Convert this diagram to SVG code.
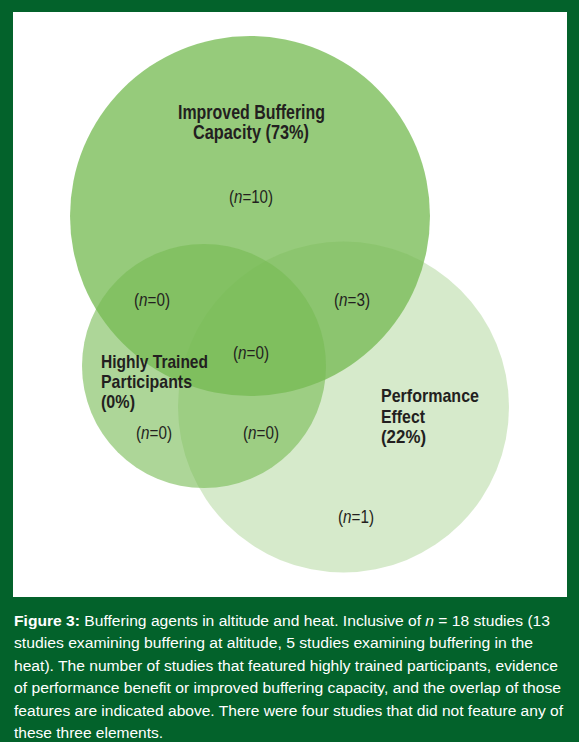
<svg xmlns="http://www.w3.org/2000/svg" width="579" height="742" viewBox="0 0 579 742">
<style>
.circ{fill:#76bb53}
.title{font-family:"Liberation Sans Narrow","Liberation Sans",Arial,sans-serif;font-weight:bold;fill:#231f20}
.count{font-family:"Liberation Sans Narrow","Liberation Sans",Arial,sans-serif;font-size:17.5px;fill:#231f20}
.cap{font-family:"Liberation Sans Narrow","Liberation Sans",Arial,sans-serif;font-size:15.5px;fill:#ffffff}
.it{font-style:italic}
.b{font-weight:bold}
</style>
<rect x="0" y="0" width="579" height="742" fill="#03622b"/>
<rect x="13" y="12" width="554" height="585" fill="#ffffff"/>

<g id="node-improved-buffering">
  <circle class="circ" cx="250" cy="216" r="180" fill-opacity="0.77"/>
  <text class="title" font-size="20" x="178" y="119" textLength="147" lengthAdjust="spacingAndGlyphs">Improved Buffering</text>
  <text class="title" font-size="20" x="193" y="139" textLength="116" lengthAdjust="spacingAndGlyphs">Capacity (73%)</text>
</g>

<g id="node-performance-effect">
  <circle class="circ" cx="343.5" cy="407" r="165.5" fill-opacity="0.3"/>
  <text class="title" font-size="19" x="381" y="402" textLength="98" lengthAdjust="spacingAndGlyphs">Performance</text>
  <text class="title" font-size="19" x="381" y="423" textLength="44" lengthAdjust="spacingAndGlyphs">Effect</text>
  <text class="title" font-size="19" x="381" y="443" textLength="45" lengthAdjust="spacingAndGlyphs">(22%)</text>
</g>

<g id="node-highly-trained">
  <circle class="circ" cx="204" cy="366" r="122" fill-opacity="0.6"/>
  <text class="title" font-size="19" x="101" y="368" textLength="107" lengthAdjust="spacingAndGlyphs">Highly Trained</text>
  <text class="title" font-size="19" x="101" y="388" textLength="91" lengthAdjust="spacingAndGlyphs">Participants</text>
  <text class="title" font-size="19" x="101" y="408" textLength="34" lengthAdjust="spacingAndGlyphs">(0%)</text>
</g>

<g id="region-counts">
  <text class="count" x="229" y="202.5" textLength="44" lengthAdjust="spacingAndGlyphs">(<tspan class="it">n</tspan>=10)</text>
  <text class="count" x="134" y="306" textLength="36" lengthAdjust="spacingAndGlyphs">(<tspan class="it">n</tspan>=0)</text>
  <text class="count" x="334" y="306" textLength="36" lengthAdjust="spacingAndGlyphs">(<tspan class="it">n</tspan>=3)</text>
  <text class="count" x="233" y="359" textLength="36" lengthAdjust="spacingAndGlyphs">(<tspan class="it">n</tspan>=0)</text>
  <text class="count" x="136" y="439" textLength="36" lengthAdjust="spacingAndGlyphs">(<tspan class="it">n</tspan>=0)</text>
  <text class="count" x="243" y="439" textLength="36" lengthAdjust="spacingAndGlyphs">(<tspan class="it">n</tspan>=0)</text>
  <text class="count" x="338" y="523" textLength="36" lengthAdjust="spacingAndGlyphs">(<tspan class="it">n</tspan>=1)</text>
</g>

<g id="connectors"/>

<g id="caption">
  <text class="cap" x="14" y="626" textLength="536" lengthAdjust="spacingAndGlyphs"><tspan class="b">Figure 3:</tspan> Buffering agents in altitude and heat. Inclusive of <tspan class="it">n</tspan> = 18 studies (13</text>
  <text class="cap" x="14" y="648.4" textLength="519" lengthAdjust="spacingAndGlyphs">studies examining buffering at altitude, 5 studies examining buffering in the</text>
  <text class="cap" x="14" y="670.8" textLength="544" lengthAdjust="spacingAndGlyphs">heat). The number of studies that featured highly trained participants, evidence</text>
  <text class="cap" x="14" y="693.2" textLength="547" lengthAdjust="spacingAndGlyphs">of performance benefit or improved buffering capacity, and the overlap of those</text>
  <text class="cap" x="14" y="715.6" textLength="549" lengthAdjust="spacingAndGlyphs">features are indicated above. There were four studies that did not feature any of</text>
  <text class="cap" x="14" y="738" textLength="149" lengthAdjust="spacingAndGlyphs">these three elements.</text>
</g>
</svg>
